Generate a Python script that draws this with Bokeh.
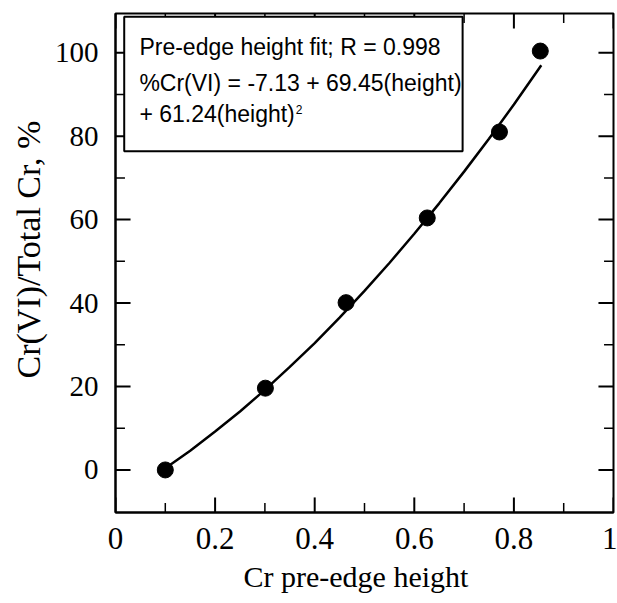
from bokeh.plotting import figure
from bokeh.models import (FixedTicker, BoxAnnotation, Label, Range1d, Title,
                          CustomJSTickFormatter)
from bokeh.embed import file_html
from bokeh.resources import INLINE

# measured data points
height_pts = [0.10, 0.301, 0.463, 0.626, 0.771, 0.853]
crvi_pts = [0.0, 19.6, 40.1, 60.4, 81.0, 100.4]

# fitted curve
fit_height = [0.10, 0.15, 0.20, 0.25, 0.30, 0.35, 0.40, 0.45, 0.50, 0.55,
              0.60, 0.65, 0.70, 0.75, 0.80, 0.855]
fit_crvi = [0.4, 4.6, 9.2, 14.0, 19.2, 24.7, 30.4, 36.5, 42.9, 49.6,
            56.6, 63.9, 71.5, 79.4, 87.6, 97.0]

x_tick_values = [0, 0.2, 0.4, 0.6, 0.8, 1]
x_tick_labels = ["0", "0.2", "0.4", "0.6", "0.8", "1"]
x_minor_values = [0.1, 0.3, 0.5, 0.7, 0.9]
y_tick_values = [0, 20, 40, 60, 80, 100]
y_tick_labels = ["0", "20", "40", "60", "80", "100"]
y_minor_values = [10, 30, 50, 70, 90]

legend_lines = ["Pre-edge height fit; R = 0.998",
                "%Cr(VI) = -7.13 + 69.45(height)",
                "+ 61.24(height)"]
legend_sup = "2"

x_title = "Cr pre-edge height"
y_title = "Cr(VI)/Total Cr, %"

SERIF = "Liberation Serif"
SANS = "Liberation Sans"

X0, X1 = 0.0, 1.0
Y0, Y1 = -10.2, 109.4

p = figure(width=617, height=603, output_backend="svg", toolbar_location=None,
           x_range=Range1d(X0, X1), y_range=Range1d(Y0, Y1),
           min_border_left=115, min_border_right=4, min_border_top=13,
           min_border_bottom=91, background_fill_color="white",
           border_fill_color="white")
p.grid.visible = False
p.outline_line_color = "black"
p.outline_line_width = 2


def fmt(vals, labs):
    return CustomJSTickFormatter(args=dict(vals=vals, labs=labs), code="""
        const i = vals.findIndex(v => Math.abs(v - tick) < 1e-9);
        return i >= 0 ? labs[i] : '';
    """)


def style_axis(ax, vals, labs, font_size):
    ax.ticker = FixedTicker(ticks=vals, minor_ticks=[])
    ax.major_tick_in = 0
    ax.major_tick_out = 0
    ax.minor_tick_in = 0
    ax.minor_tick_out = 0
    ax.axis_line_color = "black"
    ax.axis_line_width = 2
    ax.formatter = fmt(vals, labs)
    ax.major_label_text_font = SERIF
    ax.major_label_text_font_size = font_size
    ax.major_label_text_color = "black"


xa = p.xaxis[0]
style_axis(xa, x_tick_values, x_tick_labels, "31px")
xa.major_label_standoff = 15

ya = p.yaxis[0]
style_axis(ya, y_tick_values, y_tick_labels, "29px")
ya.major_label_standoff = 17

# axis titles as side titles, so they can be placed along the frame
p.add_layout(Title(text=x_title, align="left", offset=128, standoff=16,
                   vertical_align="top", text_font=SERIF,
                   text_font_size="30px", text_font_style="normal",
                   text_color="black"), "below")
p.add_layout(Title(text=y_title, align="left", offset=134, standoff=10,
                   text_font=SERIF, text_font_size="34px",
                   text_font_style="normal", text_color="black"), "left")

# inward ticks on all four sides, derived from the tick arrays
XMAJ, XMIN = 0.0302 * (X1 - X0), 0.019 * (X1 - X0)
YMAJ, YMIN = 0.0302 * (Y1 - Y0), 0.019 * (Y1 - Y0)
tick_kw = dict(line_color="black")
for vals, ln, w in ((x_tick_values, YMAJ, 2), (x_minor_values, YMIN, 1.5)):
    p.segment(x0=vals, y0=[Y0] * len(vals), x1=vals, y1=[Y0 + ln] * len(vals),
              line_width=w, **tick_kw)
    p.segment(x0=vals, y0=[Y1] * len(vals), x1=vals, y1=[Y1 - ln] * len(vals),
              line_width=w, **tick_kw)
for vals, ln, w in ((y_tick_values, XMAJ, 2), (y_minor_values, XMIN, 1.5)):
    p.segment(x0=[X0] * len(vals), y0=vals, x1=[X0 + ln] * len(vals), y1=vals,
              line_width=w, **tick_kw)
    p.segment(x0=[X1] * len(vals), y0=vals, x1=[X1 - ln] * len(vals), y1=vals,
              line_width=w, **tick_kw)

p.line(fit_height, fit_crvi, line_color="black", line_width=2.5)
p.scatter(height_pts, crvi_pts, size=16, fill_color="black", line_color="black")

box = BoxAnnotation(left=0.0175, right=0.697, top=108.6, bottom=76.4,
                    fill_color="white", fill_alpha=1.0, line_color="black",
                    line_alpha=1.0, line_width=2, level="annotation")
p.add_layout(box)

line_y = [101.4, 92.8, 85.3]
for txt, yy in zip(legend_lines, line_y):
    p.add_layout(Label(x=0.048, y=yy, text=txt, text_font=SANS,
                       text_font_size="23px", text_color="black",
                       text_baseline="alphabetic", text_align="left"))
p.add_layout(Label(x=0.362, y=86.4, text=legend_sup, text_font=SANS,
                   text_font_size="12px", text_color="black",
                   text_baseline="alphabetic", text_align="left"))

open("out.html", "w").write(file_html(p, INLINE))
